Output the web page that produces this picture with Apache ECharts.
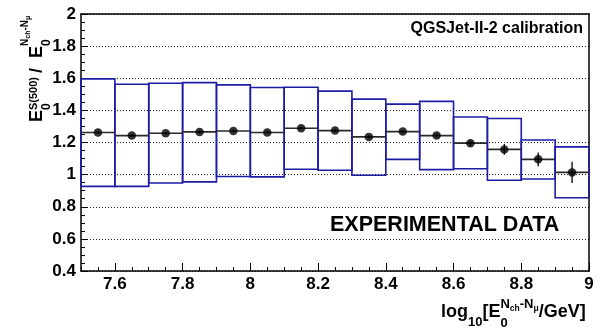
<!DOCTYPE html>
<html><head><meta charset="utf-8">
<script src="https://cdn.jsdelivr.net/npm/echarts@6/dist/echarts.min.js"></script>
<style>html,body{margin:0;padding:0;background:#fff}#c{width:608px;height:331px}</style>
</head><body><div id="c"></div>
<script>
// ---- data ----
const binCenters = [7.55,7.65,7.75,7.85,7.95,8.05,8.15,8.25,8.35,8.45,8.55,8.65,8.75,8.85,8.95];
const binWidth = 0.1;
const meanRatio = [1.262,1.243,1.258,1.266,1.272,1.262,1.289,1.274,1.235,1.268,1.243,1.196,1.157,1.095,1.014];
const statErr   = [0.008,0.008,0.008,0.008,0.008,0.008,0.009,0.009,0.010,0.011,0.013,0.018,0.033,0.043,0.066];
const sysLow    = [0.927,0.927,0.948,0.955,0.988,0.986,1.033,1.027,0.996,1.095,1.031,1.037,0.965,0.973,0.856];
const sysHigh   = [1.596,1.563,1.569,1.573,1.559,1.542,1.544,1.520,1.470,1.439,1.456,1.359,1.349,1.216,1.173];
const xTickValues = [7.6,7.8,8.0,8.2,8.4,8.6,8.8,9.0];
const yTickValues = [0.4,0.6,0.8,1.0,1.2,1.4,1.6,1.8,2.0];
const xMin = 7.5, xMax = 9.0, yMin = 0.4, yMax = 2.0;

const FF = '"Liberation Sans", Arial, Helvetica, sans-serif';
const ctx = document.createElement('canvas').getContext('2d');
function fnt(s){ return 'bold ' + s + 'px ' + FF; }
function tw(t, s){ ctx.font = fnt(s); return ctx.measureText(t).width; }

// sequential math-like layout: returns graphic children
function layoutMath(items){
  const out = [];
  let x = 0;
  function place(p, x0){
    if (p.gap) return x0 + p.gap;
    const bl = p.bl || 0;
    out.push({type:'text', x:x0, y: bl - 0.35*p.s,
      style:{text:p.t, font:fnt(p.s), fill:'#000', textAlign:'left', textVerticalAlign:'middle', align:'left', verticalAlign:'middle'}});
    return x0 + tw(p.t, p.s);
  }
  items.forEach(p => {
    if (p.stack){
      let maxX = x;
      p.stack.forEach(seq => { let xx = x; seq.forEach(q => { xx = place(q, xx); }); maxX = Math.max(maxX, xx); });
      x = maxX;
    } else {
      x = place(p, x);
    }
  });
  return out;
}

const xTitle = layoutMath([
  {t:'log', s:18},
  {t:'10', s:13, bl:9},
  {t:'[E', s:18},
  {stack:[ [{t:'0', s:13, bl:10}],
           [{t:'N', s:13, bl:-9}, {t:'ch', s:8.5, bl:-6.5}, {t:'-', s:13, bl:-9}, {t:'N', s:13, bl:-9}, {t:'\u03bc', s:8.5, bl:-6.5}] ]},
  {t:'/GeV]', s:18}
]);
const yTitle = layoutMath([
  {t:'E', s:18},
  {stack:[ [{t:'0', s:12, bl:8}], [{t:'S(500)', s:11, bl:-5}] ]},
  {gap:4},
  {t:'/', s:18},
  {gap:10},
  {t:'E', s:18},
  {stack:[ [{t:'0', s:12, bl:8}],
           [{t:'N', s:10, bl:-14}, {t:'ch', s:7, bl:-12}, {t:'-', s:10, bl:-14}, {t:'N', s:10, bl:-14}, {t:'\u03bc', s:7, bl:-12}] ]}
]);

const chart = echarts.init(document.getElementById('c'), null, {renderer:'canvas'});
const fmt = v => String(+(+v).toFixed(1));
const boxData = binCenters.map((c,i) => [c, meanRatio[i], sysLow[i], sysHigh[i], statErr[i]]);
const pointData = binCenters.map((c,i) => [c, meanRatio[i]]);

const option = {
  animation:false,
  backgroundColor:'#fff',
  grid:{left:81, right:19, top:14, bottom:60},
  xAxis:[
    {type:'value', min:xMin, max:xMax, interval:0.05, position:'bottom',
     axisLine:{show:true, onZero:false, lineStyle:{color:'#000', width:1.5}},
     axisTick:{show:true, inside:true, length:4, lineStyle:{color:'#000', width:1}},
     axisLabel:{show:false}, splitLine:{show:false}},
    {type:'value', min:xMin, max:xMax, position:'bottom',
     axisLine:{show:false, onZero:false},
     axisTick:{show:true, inside:true, length:8, customValues:xTickValues, lineStyle:{color:'#000', width:1}},
     axisLabel:{show:true, customValues:xTickValues, formatter:fmt, margin:5, color:'#000', fontSize:17, fontWeight:'bold', fontFamily:FF},
     splitLine:{show:false}},
    {type:'value', min:xMin, max:xMax, position:'top',
     axisLine:{show:true, onZero:false, lineStyle:{color:'#000', width:1.5}},
     axisTick:{show:false}, axisLabel:{show:false}, splitLine:{show:false}}
  ],
  yAxis:[
    {type:'value', min:yMin, max:yMax, interval:0.2, position:'left',
     axisLine:{show:true, onZero:false, lineStyle:{color:'#000', width:1.5}},
     axisTick:{show:true, inside:true, length:7, lineStyle:{color:'#000', width:1}},
     minorTick:{show:true, splitNumber:4, length:4, lineStyle:{color:'#000', width:1}},
     axisLabel:{show:true, customValues:yTickValues, formatter:fmt, margin:5, color:'#000', fontSize:17, fontWeight:'bold', fontFamily:FF},
     splitLine:{show:true, lineStyle:{color:'#222', width:1, type:[1,2]}}},
    {type:'value', min:yMin, max:yMax, position:'right',
     axisLine:{show:true, onZero:false, lineStyle:{color:'#000', width:1.5}},
     axisTick:{show:false}, axisLabel:{show:false}, splitLine:{show:false}}
  ],
  series:[
    {type:'custom', xAxisIndex:0, yAxisIndex:0, data:boxData, z:2,
     renderItem:function(params, api){
       const c = api.value(0), lo = api.value(2), hi = api.value(3);
       const p1 = api.coord([c - binWidth/2, hi]);
       const p2 = api.coord([c + binWidth/2, lo]);
       return {type:'rect', shape:{x:p1[0], y:p1[1], width:p2[0]-p1[0], height:p2[1]-p1[1]},
               style:{fill:null, stroke:'#1c1ca6', lineWidth:1.6}};
     }},
    {type:'custom', xAxisIndex:0, yAxisIndex:0, data:boxData, z:3,
     renderItem:function(params, api){
       const c = api.value(0), m = api.value(1), e = api.value(4);
       const a = api.coord([c - binWidth/2, m]);
       const b = api.coord([c + binWidth/2, m]);
       const t = api.coord([c, m + e]);
       const d = api.coord([c, m - e]);
       return {type:'group', children:[
         {type:'line', shape:{x1:a[0], y1:a[1], x2:b[0], y2:b[1]}, style:{stroke:'#2a2a2a', lineWidth:1.6}},
         {type:'line', shape:{x1:t[0], y1:t[1], x2:d[0], y2:d[1]}, style:{stroke:'#000', lineWidth:1.3}}
       ]};
     }},
    {type:'scatter', xAxisIndex:0, yAxisIndex:0, data:pointData, symbol:'circle', symbolSize:8.5,
     itemStyle:{color:'#000'}, z:4}
  ],
  graphic:[
    {type:'text', right:25, top:21, style:{text:'QGSJet-II-2 calibration', font:fnt(16), fill:'#000'}},
    {type:'text', left:330, top:214, style:{text:'EXPERIMENTAL DATA', font:fnt(21.5), fill:'#000'}},
    {type:'group', x:441, y:318, children:xTitle},
    {type:'group', x:43, y:122, rotation:Math.PI/2, children:yTitle}
  ]
};
chart.setOption(option);
</script>
</body></html>
